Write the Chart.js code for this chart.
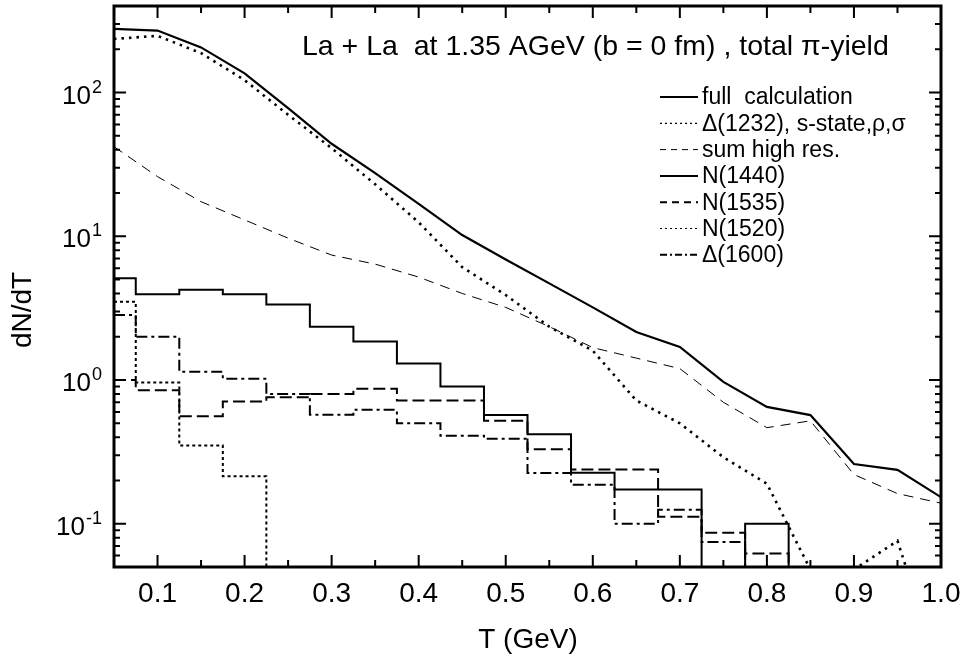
<!DOCTYPE html>
<html>
<head>
<meta charset="utf-8">
<script src="https://cdn.jsdelivr.net/npm/chart.js@4.4.1/dist/chart.umd.min.js"></script>
<style>
  body { margin: 0; background: #fff; }
  canvas { display: block; }
</style>
</head>
<body>
<canvas id="pion-chart" width="964" height="656"></canvas>
<script>
// T values (GeV), one point per 0.05 bin
const T = [0.05, 0.10, 0.15, 0.20, 0.25, 0.30, 0.35, 0.40, 0.45, 0.50,
           0.55, 0.60, 0.65, 0.70, 0.75, 0.80, 0.85, 0.90, 0.95, 1.00];

// dN/dT (values under 0.05 are off the plot)
const fullCalc = [277, 270, 206, 136, 78, 44, 27.5, 16.8, 10.2, 6.9,
                  4.7, 3.2, 2.16, 1.70, 0.97, 0.65, 0.57, 0.26, 0.237, 0.153];
const delta1232 = [236, 248, 188, 122, 70, 41, 23, 12.5, 6.1, 3.9,
                   2.35, 1.6, 0.72, 0.50, 0.29, 0.19, 0.048, 0.048, 0.076, 0.009];
const sumHighRes = [42, 26, 17.4, 13, 9.7, 7.4, 6.4, 5.2, 4.0, 3.2,
                    2.35, 1.68, 1.42, 1.2, 0.70, 0.466, 0.52, 0.22, 0.162, 0.139];
const n1440 = [5.1, 3.95, 4.25, 3.95, 3.35, 2.35, 1.85, 1.3, 0.9, 0.57,
               0.42, 0.226, 0.173, 0.173, 0.01, 0.1, 0.01, 0.01, 0.01, 0.01];
const n1535 = [1.0, 0.85, 0.56, 0.71, 0.76, 0.80, 0.87, 0.72, 0.72, 0.52,
               0.33, 0.238, 0.238, 0.112, 0.0865, 0.062, 0.01, 0.01, 0.01, 0.01];
const n1520 = [3.5, 0.96, 0.35, 0.214, 0.01, 0.01, 0.01, 0.01, 0.01, 0.01,
               0.01, 0.01, 0.01, 0.01, 0.01, 0.01, 0.01, 0.01, 0.01, 0.01];
const delta1600 = [2.83, 2.0, 1.14, 1.02, 0.80, 0.574, 0.62, 0.50, 0.41, 0.39,
                   0.225, 0.187, 0.1, 0.125, 0.0745, 0.01, 0.01, 0.01, 0.01, 0.01];

// axis ticks
const xTicks = [0.1, 0.2, 0.3, 0.4, 0.5, 0.6, 0.7, 0.8, 0.9, 1.0];
const xTickLabels = ['0.1', '0.2', '0.3', '0.4', '0.5', '0.6', '0.7', '0.8', '0.9', '1.0'];
const yTicks = [0.1, 1, 10, 100];
const yTickExp = ['-1', '0', '1', '2'];

const titleText = 'La + La  at 1.35 AGeV (b = 0 fm) , total \u03c0-yield';
const FONT = '"Liberation Sans", Arial, Helvetica, sans-serif';

const makeDataset = (label, values, style) => ({
	label: label,
	data: values.map((v, i) => ({ x: T[i], y: v })),
	borderColor: '#000',
	backgroundColor: '#000',
	fill: false,
	pointRadius: 0,
	...style,
});

const datasets = [
	makeDataset('full  calculation', fullCalc, { borderWidth: 2.2 }),
	makeDataset('\u0394(1232), s-state,\u03c1,\u03c3', delta1232, { borderWidth: 2.6, borderDash: [2.5, 5], legendDash: [2, 3], legendWidth: 1.2 }),
	makeDataset('sum high res.', sumHighRes, { borderWidth: 1, borderDash: [10, 7], legendDash: [6, 5] }),
	makeDataset('N(1440)', n1440, { borderWidth: 2, stepped: 'middle' }),
	makeDataset('N(1535)', n1535, { borderWidth: 2, borderDash: [12, 5], stepped: 'middle', legendDash: [7, 5] }),
	makeDataset('N(1520)', n1520, { borderWidth: 2, borderDash: [3, 3], stepped: 'middle', legendDash: [2, 3], legendWidth: 1.2 }),
	makeDataset('\u0394(1600)', delta1600, { borderWidth: 2, borderDash: [11, 4, 3, 4], stepped: 'middle', legendDash: [7, 3, 2, 3] }),
];

// frame, inward ticks, labels, title and legend
const framePlugin = {
	id: 'frame',
	afterDraw(chart) {
		const { ctx, chartArea: a, scales } = chart;
		const xs = scales.x;
		const ys = scales.y;
		ctx.save();
		ctx.strokeStyle = '#000';
		ctx.fillStyle = '#000';

		// ticks
		ctx.lineWidth = 2;
		ctx.beginPath();
		for (let k = 1; k < 20; k++) {
			const v = 0.05 + k * 0.05;
			const px = xs.getPixelForValue(v);
			const len = k % 2 === 1 ? 12 : 7;
			ctx.moveTo(px, a.bottom); ctx.lineTo(px, a.bottom - len);
			ctx.moveTo(px, a.top); ctx.lineTo(px, a.top + len);
		}
		for (let e = -2; e <= 2; e++) {
			for (let m = 1; m <= 9; m++) {
				const v = m * Math.pow(10, e);
				if (v <= ys.min || v >= ys.max) continue;
				const py = ys.getPixelForValue(v);
				const len = m === 1 ? 12 : 6;
				ctx.moveTo(a.left, py); ctx.lineTo(a.left + len, py);
				ctx.moveTo(a.right, py); ctx.lineTo(a.right - len, py);
			}
		}
		ctx.stroke();

		ctx.lineWidth = 3;
		ctx.strokeRect(a.left, a.top, a.right - a.left, a.bottom - a.top);

		// x tick labels
		ctx.font = '28px ' + FONT;
		ctx.textAlign = 'center';
		ctx.textBaseline = 'alphabetic';
		xTicks.forEach((v, i) => {
			ctx.fillText(xTickLabels[i], xs.getPixelForValue(v), 602);
		});

		// y tick labels 10^n
		yTicks.forEach((v, i) => {
			const py = ys.getPixelForValue(v);
			ctx.font = '18px ' + FONT;
			const supW = ctx.measureText(yTickExp[i]).width;
			ctx.textAlign = 'right';
			ctx.fillText(yTickExp[i], a.left - 12, py);
			ctx.font = '26px ' + FONT;
			ctx.fillText('10', a.left - 13 - supW, py + 11);
		});

		// axis titles
		ctx.font = '28px ' + FONT;
		ctx.textAlign = 'center';
		ctx.fillText('T (GeV)', 528, 648);
		ctx.save();
		ctx.translate(31, 310);
		ctx.rotate(-Math.PI / 2);
		ctx.fillText('dN/dT', 0, 0);
		ctx.restore();

		// title
		ctx.font = '28.5px ' + FONT;
		ctx.textAlign = 'left';
		ctx.fillText(titleText, 302, 55);

		// legend
		ctx.font = '23px ' + FONT;
		ctx.textBaseline = 'middle';
		chart.data.datasets.forEach((ds, i) => {
			const y = 97 + i * 26.3;
			ctx.lineWidth = ds.legendWidth || ds.borderWidth;
			ctx.setLineDash(ds.legendDash || ds.borderDash || []);
			ctx.beginPath();
			ctx.moveTo(660, y);
			ctx.lineTo(698, y);
			ctx.stroke();
			ctx.setLineDash([]);
			ctx.fillText(ds.label, 702, y + 1);
		});
		ctx.restore();
	},
};

const drawChart = () => {
	const ctx = document.getElementById('pion-chart');
	new Chart(ctx, {
		type: 'line',
		data: { datasets: datasets },
		options: {
			responsive: false,
			animation: false,
			layout: { padding: { left: 114, right: 23, top: 6, bottom: 89 } },
			scales: {
				x: { type: 'linear', min: 0.05, max: 1.0, display: false },
				y: { type: 'logarithmic', min: 0.05, max: 400, display: false },
			},
			plugins: {
				legend: { display: false },
				tooltip: { enabled: false },
			},
		},
		plugins: [framePlugin],
	});
};

drawChart();
</script>
</body>
</html>
